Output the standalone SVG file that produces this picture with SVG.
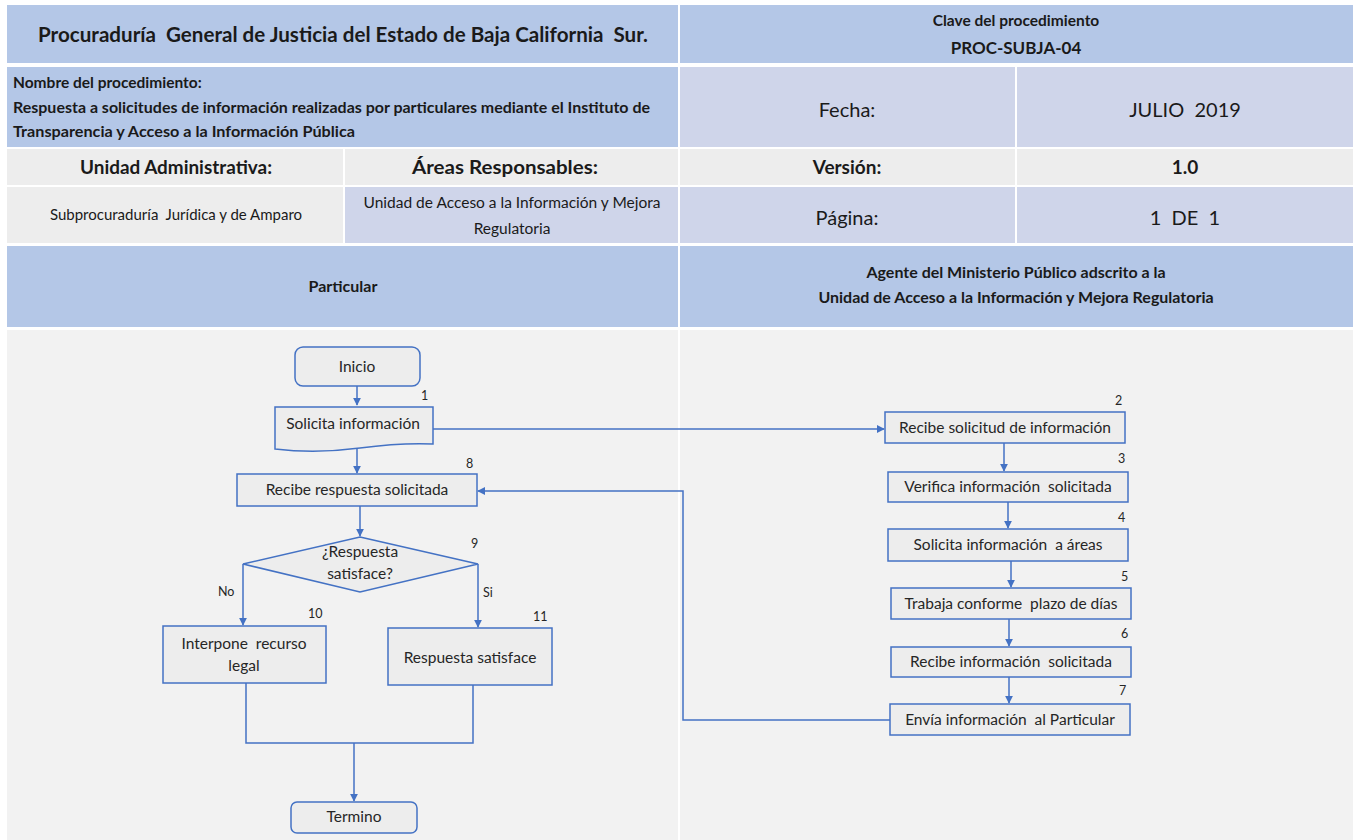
<svg xmlns="http://www.w3.org/2000/svg" width="1356" height="840" viewBox="0 0 1356 840" xml:space="preserve">
<defs>
<marker id="arr" viewBox="0 0 10 10" refX="9" refY="5" markerWidth="8" markerHeight="8" markerUnits="userSpaceOnUse" orient="auto">
<path d="M0,0 L10,5 L0,10 Z" fill="#4472C4"/>
</marker>
<style>
text{font-family:Lato,"Open Sans","Liberation Sans",sans-serif;fill:#1a1a1a;white-space:pre}
.blue{fill:#B4C7E7}
.lav{fill:#CFD5EA}
.gray{fill:#EDEDED}
.hb{font-weight:bold;text-anchor:middle}
.c{text-anchor:middle}
.box{fill:#EDEDED;stroke:#4472C4;stroke-width:1.5}
.conn{fill:none;stroke:#4472C4;stroke-width:1.5}
.lbl{font-size:15.5px;text-anchor:middle;fill:#262626}
.num{font-size:12.5px;fill:#262626}
</style>
</defs>
<rect x="0" y="0" width="1356" height="840" fill="#FFFFFF"/>
<g id="header">
<rect class="blue" x="7" y="5" width="671" height="58"/>
<rect class="blue" x="680" y="5" width="673" height="58"/>
<text class="hb" x="343" y="42" font-size="21" textLength="610" lengthAdjust="spacingAndGlyphs">Procuraduría  General de Justicia del Estado de Baja California  Sur.</text>
<text class="hb" x="1016" y="26" font-size="15.5">Clave del procedimiento</text>
<text class="hb" x="1016" y="54" font-size="17">PROC-SUBJA-04</text>

<rect class="blue" x="7" y="67" width="671" height="80"/>
<rect class="lav" x="680" y="67" width="335" height="80"/>
<rect class="lav" x="1017" y="67" width="336" height="80"/>
<text x="13" y="88" font-size="15.5" font-weight="bold">Nombre del procedimiento:</text>
<text x="13" y="113" font-size="15.5" font-weight="bold" textLength="637" lengthAdjust="spacingAndGlyphs">Respuesta a solicitudes de información realizadas por particulares mediante el Instituto de</text>
<text x="13" y="137" font-size="15.5" font-weight="bold" textLength="342" lengthAdjust="spacingAndGlyphs">Transparencia y Acceso a la Información Pública</text>
<text class="c" x="847" y="117" font-size="20">Fecha:</text>
<text class="c" x="1185" y="117" font-size="20">JULIO  2019</text>

<rect class="gray" x="7" y="149" width="336" height="36"/>
<rect class="gray" x="345" y="149" width="333" height="36"/>
<rect class="gray" x="680" y="149" width="335" height="36"/>
<rect class="gray" x="1017" y="149" width="336" height="36"/>
<text class="hb" x="176" y="174" font-size="19" textLength="192" lengthAdjust="spacingAndGlyphs">Unidad Administrativa:</text>
<text class="hb" x="505" y="174" font-size="19" textLength="186" lengthAdjust="spacingAndGlyphs">Áreas Responsables:</text>
<text class="hb" x="847" y="174" font-size="19">Versión:</text>
<text class="hb" x="1185" y="174" font-size="19">1.0</text>

<rect class="gray" x="7" y="187" width="336" height="56"/>
<rect class="lav" x="345" y="187" width="333" height="56"/>
<rect class="lav" x="680" y="187" width="335" height="56"/>
<rect class="lav" x="1017" y="187" width="336" height="56"/>
<text class="c" x="176" y="220" font-size="15">Subprocuraduría  Jurídica y de Amparo</text>
<text class="c" x="512" y="208" font-size="15.5">Unidad de Acceso a la Información y Mejora</text>
<text class="c" x="512" y="234" font-size="15.5">Regulatoria</text>
<text class="c" x="847" y="225" font-size="20">Página:</text>
<text class="c" x="1185" y="225" font-size="20">1  DE  1</text>

<rect class="blue" x="7" y="246" width="671" height="81"/>
<rect class="blue" x="680" y="246" width="673" height="81"/>
<text class="hb" x="343" y="292" font-size="16">Particular</text>
<text class="hb" x="1016" y="278" font-size="16">Agente del Ministerio Público adscrito a la</text>
<text class="hb" x="1016" y="303" font-size="16">Unidad de Acceso a la Información y Mejora Regulatoria</text>
</g>
<g id="lanes">
<rect x="7" y="330" width="671" height="510" fill="#F2F2F2"/>
<rect x="680" y="330" width="673" height="510" fill="#F2F2F2"/>
</g>
<g id="connectors">
<line class="conn" x1="357" y1="386" x2="357" y2="405" marker-end="url(#arr)"/>
<polyline class="conn" points="433,429 884,429" marker-end="url(#arr)"/>
<line class="conn" x1="357" y1="449" x2="357" y2="473" marker-end="url(#arr)"/>
<line class="conn" x1="360" y1="506" x2="360" y2="536" marker-end="url(#arr)"/>
<polyline class="conn" points="243,564 243,625" marker-end="url(#arr)"/>
<polyline class="conn" points="478,564 478,627" marker-end="url(#arr)"/>
<polyline class="conn" points="246,683 246,743 473,743 473,685"/>
<line class="conn" x1="354" y1="743" x2="354" y2="801" marker-end="url(#arr)"/>
<line class="conn" x1="1004" y1="443" x2="1004" y2="471" marker-end="url(#arr)"/>
<line class="conn" x1="1008" y1="502" x2="1008" y2="528" marker-end="url(#arr)"/>
<line class="conn" x1="1011" y1="561" x2="1011" y2="587" marker-end="url(#arr)"/>
<line class="conn" x1="1009" y1="619" x2="1009" y2="646" marker-end="url(#arr)"/>
<line class="conn" x1="1009" y1="677" x2="1009" y2="703" marker-end="url(#arr)"/>
<polyline class="conn" points="890,720 683,720 683,491 478,491" marker-end="url(#arr)"/>
</g>
<g id="inicio">
<rect class="box" x="295" y="347" width="125" height="39" rx="8"/>
<text class="lbl" x="357" y="372">Inicio</text>
</g>
<g id="n1">
<path class="box" d="M275,407 H433 V444 C410,443 390,444 360,448 C330,452 300,452 275,449 Z"/>
<text class="lbl" x="353" y="429">Solicita información</text>
<text class="num" x="421" y="400">1</text>
</g>
<g id="n8">
<rect class="box" x="237" y="474" width="240" height="32"/>
<text class="lbl" x="357" y="495">Recibe respuesta solicitada</text>
<text class="num" x="466" y="468">8</text>
</g>
<g id="n9">
<polygon class="box" points="360,537 478,564 360,592 243,564"/>
<text class="lbl" x="360" y="557">¿Respuesta</text>
<text class="lbl" x="360" y="579">satisface?</text>
<text class="num" x="471" y="548">9</text>
<text class="num" x="218" y="596">No</text>
<text class="num" x="483" y="597">Si</text>
</g>
<g id="n10">
<rect class="box" x="163" y="626" width="163" height="57"/>
<text class="lbl" x="244" y="649">Interpone  recurso</text>
<text class="lbl" x="244" y="671">legal</text>
<text class="num" x="308" y="618">10</text>
</g>
<g id="n11">
<rect class="box" x="388" y="628" width="164" height="57"/>
<text class="lbl" x="470" y="663">Respuesta satisface</text>
<text class="num" x="533" y="621">11</text>
</g>
<g id="termino">
<rect class="box" x="291" y="802" width="126" height="31" rx="6"/>
<text class="lbl" x="354" y="822">Termino</text>
</g>
<g id="n2">
<rect class="box" x="885" y="412" width="240" height="31"/>
<text class="lbl" x="1005" y="433">Recibe solicitud de información</text>
<text class="num" x="1115" y="405">2</text>
</g>
<g id="n3">
<rect class="box" x="888" y="472" width="240" height="30"/>
<text class="lbl" x="1008" y="492">Verifica información  solicitada</text>
<text class="num" x="1118" y="463">3</text>
</g>
<g id="n4">
<rect class="box" x="888" y="529" width="240" height="32"/>
<text class="lbl" x="1008" y="550">Solicita información  a áreas</text>
<text class="num" x="1118" y="522">4</text>
</g>
<g id="n5">
<rect class="box" x="891" y="588" width="240" height="31"/>
<text class="lbl" x="1011" y="609">Trabaja conforme  plazo de días</text>
<text class="num" x="1121" y="581">5</text>
</g>
<g id="n6">
<rect class="box" x="891" y="647" width="240" height="30"/>
<text class="lbl" x="1011" y="667">Recibe información  solicitada</text>
<text class="num" x="1121" y="638">6</text>
</g>
<g id="n7">
<rect class="box" x="890" y="704" width="240" height="31"/>
<text class="lbl" x="1010" y="725">Envía información  al Particular</text>
<text class="num" x="1119" y="695">7</text>
</g>
</svg>
